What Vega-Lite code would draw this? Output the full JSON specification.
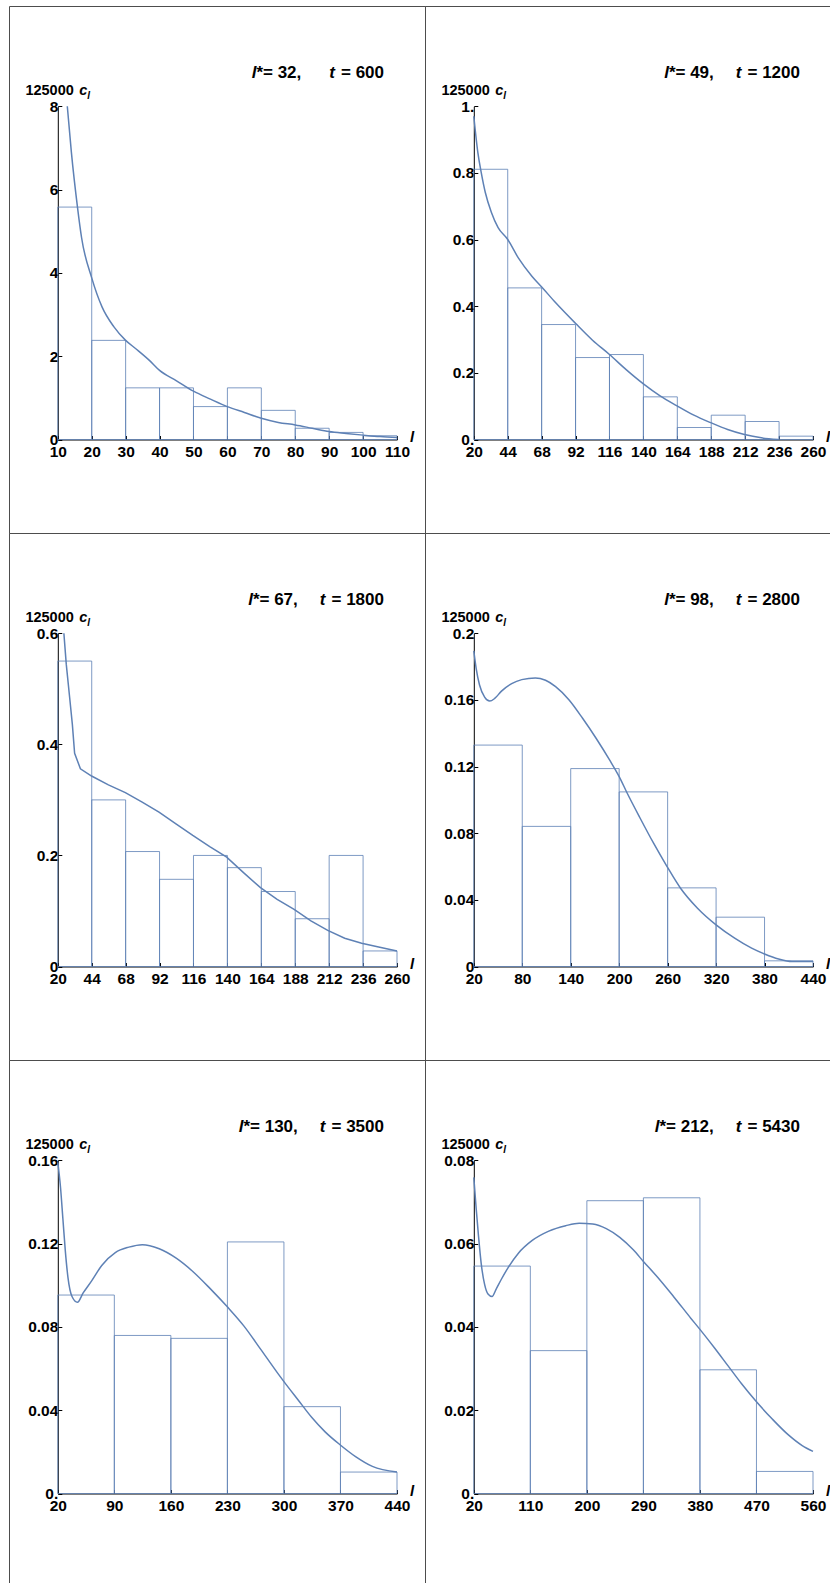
{
"$schema": "https://vega.github.io/schema/vega-lite/v6.json",
"padding": {"left": 8, "top": 5, "right": 0, "bottom": 0},
"background": "white",
"columns": 2,
"spacing": 0,
"bounds": "flush",
"config": {
  "view": {"stroke": "#4d4d4d", "strokeWidth": 1},
  "font": "Liberation Sans",
  "axis": {"domainColor": "#000", "tickColor": "#000", "labelColor": "#000", "labelFont": "Liberation Sans", "labelFontSize": 15.5, "labelFontWeight": "bold", "labelFlush": false, "labelOverlap": false, "labelBound": false, "grid": false, "tickSize": -4},
  "axisX": {"labelPadding": 9},
  "axisY": {"labelPadding": 4}
},
"datasets": {
  "bars1": [{"a":10,"b":20,"h":5.58},{"a":20,"b":30,"h":2.38},{"a":30,"b":40,"h":1.24},{"a":40,"b":50,"h":1.24},{"a":50,"b":60,"h":0.79},{"a":60,"b":70,"h":1.24},{"a":70,"b":80,"h":0.70},{"a":80,"b":90,"h":0.27},{"a":90,"b":100,"h":0.17},{"a":100,"b":110,"h":0.09}],
  "curve1": [{"l":12.8,"c":8.0},{"l":14,"c":6.9},{"l":15.8,"c":5.58},{"l":17,"c":4.85},{"l":20,"c":3.88},{"l":23,"c":3.19},{"l":26.5,"c":2.71},{"l":30,"c":2.38},{"l":33,"c":2.18},{"l":37,"c":1.9},{"l":40,"c":1.66},{"l":45,"c":1.41},{"l":50,"c":1.16},{"l":55,"c":0.97},{"l":60,"c":0.79},{"l":65,"c":0.65},{"l":70,"c":0.51},{"l":75,"c":0.41},{"l":80,"c":0.35},{"l":85,"c":0.27},{"l":90,"c":0.19},{"l":95,"c":0.145},{"l":100,"c":0.105},{"l":105,"c":0.07},{"l":110,"c":0.05}],
  "bars2": [{"a":20,"b":44,"h":0.811},{"a":44,"b":68,"h":0.455},{"a":68,"b":92,"h":0.345},{"a":92,"b":116,"h":0.246},{"a":116,"b":140,"h":0.255},{"a":140,"b":164,"h":0.128},{"a":164,"b":188,"h":0.036},{"a":188,"b":212,"h":0.073},{"a":212,"b":236,"h":0.054},{"a":236,"b":260,"h":0.010}],
  "curve2": [{"l":20,"c":0.97},{"l":22.9,"c":0.86},{"l":25.3,"c":0.80},{"l":28.1,"c":0.742},{"l":32.4,"c":0.682},{"l":37.2,"c":0.636},{"l":43.9,"c":0.601},{"l":51.5,"c":0.545},{"l":61.1,"c":0.49},{"l":68.2,"c":0.457},{"l":77.8,"c":0.411},{"l":92.1,"c":0.348},{"l":104,"c":0.298},{"l":116,"c":0.255},{"l":128,"c":0.209},{"l":140,"c":0.167},{"l":151.8,"c":0.131},{"l":163.8,"c":0.101},{"l":175.7,"c":0.073},{"l":187.6,"c":0.0505},{"l":199.6,"c":0.03},{"l":211.5,"c":0.015},{"l":223.5,"c":0.005},{"l":235.4,"c":0.0}],
  "bars3": [{"a":20,"b":44,"h":0.55},{"a":44,"b":68,"h":0.30},{"a":68,"b":92,"h":0.207},{"a":92,"b":116,"h":0.157},{"a":116,"b":140,"h":0.20},{"a":140,"b":164,"h":0.178},{"a":164,"b":188,"h":0.135},{"a":188,"b":212,"h":0.086},{"a":212,"b":236,"h":0.20},{"a":236,"b":260,"h":0.028}],
  "curve3": [{"l":24.3,"c":0.6},{"l":26,"c":0.544},{"l":28.4,"c":0.484},{"l":30.3,"c":0.436},{"l":31.9,"c":0.384},{"l":36,"c":0.356},{"l":43.9,"c":0.343},{"l":55.8,"c":0.327},{"l":67.8,"c":0.313},{"l":79.7,"c":0.296},{"l":91.6,"c":0.278},{"l":103.6,"c":0.257},{"l":115.5,"c":0.236},{"l":127.5,"c":0.216},{"l":139.5,"c":0.197},{"l":151.4,"c":0.169},{"l":163.4,"c":0.142},{"l":175.2,"c":0.121},{"l":187.2,"c":0.103},{"l":199.1,"c":0.082},{"l":211,"c":0.065},{"l":223,"c":0.051},{"l":235,"c":0.042},{"l":247,"c":0.035},{"l":260,"c":0.028}],
  "bars4": [{"a":20,"b":80,"h":0.1329},{"a":80,"b":140,"h":0.0841},{"a":140,"b":200,"h":0.1188},{"a":200,"b":260,"h":0.1048},{"a":260,"b":320,"h":0.0472},{"a":320,"b":380,"h":0.0296},{"a":380,"b":440,"h":0.0034}],
  "curve4": [{"l":20,"c":0.1895},{"l":22.9,"c":0.179},{"l":27.1,"c":0.169},{"l":33.4,"c":0.1617},{"l":39.7,"c":0.1593},{"l":45.9,"c":0.1609},{"l":54.3,"c":0.1653},{"l":66.9,"c":0.1698},{"l":79.4,"c":0.1722},{"l":96.2,"c":0.1732},{"l":108.8,"c":0.1718},{"l":121.3,"c":0.168},{"l":138,"c":0.16},{"l":154.7,"c":0.149},{"l":171.4,"c":0.137},{"l":188.1,"c":0.124},{"l":200,"c":0.114},{"l":210,"c":0.104},{"l":226,"c":0.089},{"l":242.6,"c":0.074},{"l":259.3,"c":0.06},{"l":276,"c":0.047},{"l":297,"c":0.035},{"l":320,"c":0.025},{"l":343,"c":0.017},{"l":364,"c":0.011},{"l":380,"c":0.0075},{"l":397.4,"c":0.0045},{"l":414,"c":0.003},{"l":440,"c":0.003}],
  "bars5": [{"a":20,"b":90,"h":0.0953},{"a":90,"b":160,"h":0.0759},{"a":160,"b":230,"h":0.0745},{"a":230,"b":300,"h":0.1208},{"a":300,"b":370,"h":0.0417},{"a":370,"b":440,"h":0.0103}],
  "curve5": [{"l":20,"c":0.159},{"l":23.4,"c":0.1468},{"l":26.3,"c":0.1319},{"l":29.2,"c":0.117},{"l":32.6,"c":0.1037},{"l":37.6,"c":0.0946},{"l":44.3,"c":0.0918},{"l":51.4,"c":0.0963},{"l":61.9,"c":0.1021},{"l":74.4,"c":0.1095},{"l":91.2,"c":0.1157},{"l":107.9,"c":0.1183},{"l":124.7,"c":0.1195},{"l":145.6,"c":0.1175},{"l":166.6,"c":0.113},{"l":187.5,"c":0.1065},{"l":208.4,"c":0.0985},{"l":230.2,"c":0.0895},{"l":250.3,"c":0.0805},{"l":271.3,"c":0.0692},{"l":292.2,"c":0.0578},{"l":300,"c":0.0537},{"l":317.6,"c":0.0449},{"l":334.3,"c":0.0366},{"l":351,"c":0.0296},{"l":369.8,"c":0.0233},{"l":388.7,"c":0.0177},{"l":409.5,"c":0.013},{"l":440,"c":0.0103}],
  "bars6": [{"a":20,"b":110,"h":0.0546},{"a":110,"b":200,"h":0.0343},{"a":200,"b":290,"h":0.0703},{"a":290,"b":380,"h":0.071},{"a":380,"b":470,"h":0.0297},{"a":470,"b":560,"h":0.0053}],
  "curve6": [{"l":20,"c":0.0759},{"l":23.8,"c":0.0684},{"l":27.5,"c":0.0618},{"l":31.8,"c":0.0552},{"l":37.2,"c":0.0502},{"l":42.6,"c":0.0479},{"l":49,"c":0.0473},{"l":56,"c":0.0492},{"l":64.1,"c":0.0515},{"l":74.9,"c":0.0543},{"l":91,"c":0.0577},{"l":112.5,"c":0.0607},{"l":139.4,"c":0.063},{"l":166.3,"c":0.0643},{"l":187.8,"c":0.0649},{"l":209.4,"c":0.0647},{"l":230.9,"c":0.0636},{"l":252.4,"c":0.0615},{"l":273.9,"c":0.0585},{"l":290,"c":0.0557},{"l":311.6,"c":0.0521},{"l":338.5,"c":0.0472},{"l":365.4,"c":0.0421},{"l":380,"c":0.0394},{"l":403,"c":0.035},{"l":424.5,"c":0.0307},{"l":446,"c":0.0264},{"l":469,"c":0.0222},{"l":494.4,"c":0.018},{"l":521.3,"c":0.014},{"l":542.8,"c":0.0115},{"l":560,"c":0.0101}]
},
"concat": [
{
 "width": 416, "height": 527,
 "layer": [
  {"data": {"name": "bars1"}, "mark": {"type": "rect", "fillOpacity": 0, "stroke": "#5E81B5", "strokeOpacity": 0.8, "strokeWidth": 1},
   "encoding": {"x": {"field": "a", "type": "quantitative", "scale": {"domain": [10,110], "range": [48.8,388], "nice": false, "zero": false}, "axis": {"title": null, "orient": "bottom", "offset": -93.5, "values": [10,20,30,40,50,60,70,80,90,100,110]}}, "x2": {"field": "b"},
    "y": {"field": "h", "type": "quantitative", "scale": {"domain": [0,8], "range": [433.5,100.3], "nice": false, "zero": false}, "axis": {"title": null, "orient": "left", "offset": -48.8, "values": [0,2,4,6,8], "format": "d"}}, "y2": {"datum": 0}}},
  {"data": {"name": "curve1"}, "mark": {"type": "line", "color": "#5E81B5", "strokeWidth": 1.5, "interpolate": "monotone"},
   "encoding": {"x": {"field": "l", "type": "quantitative", "scale": {"domain": [10,110], "range": [48.8,388], "nice": false, "zero": false}, "axis": {"title": null, "orient": "bottom", "offset": -93.5, "values": [10,20,30,40,50,60,70,80,90,100,110]}}, "y": {"field": "c", "type": "quantitative", "scale": {"domain": [0,8], "range": [433.5,100.3], "nice": false, "zero": false}, "axis": {"title": null, "orient": "left", "offset": -48.8, "values": [0,2,4,6,8], "format": "d"}}}},
  {"data": {"values": [{}]}, "mark": {"type": "text", "text": "l", "fontStyle": "italic", "fontWeight": "bold", "fontSize": 17, "align": "right", "baseline": "alphabetic", "dx": -140.6, "dy": -28, "color": "black"},
   "encoding": {"x": {"datum": 110, "type": "quantitative"}, "y": {"datum": 8, "type": "quantitative"}}},
  {"data": {"values": [{}]}, "mark": {"type": "text", "text": "*= 32,", "fontWeight": "bold", "fontSize": 17, "align": "right", "baseline": "alphabetic", "dx": -95.7, "dy": -28, "color": "black"},
   "encoding": {"x": {"datum": 110, "type": "quantitative"}, "y": {"datum": 8, "type": "quantitative"}}},
  {"data": {"values": [{}]}, "mark": {"type": "text", "text": "t", "fontStyle": "italic", "fontWeight": "bold", "fontSize": 17, "align": "right", "baseline": "alphabetic", "dx": -62, "dy": -28, "color": "black"},
   "encoding": {"x": {"datum": 110, "type": "quantitative"}, "y": {"datum": 8, "type": "quantitative"}}},
  {"data": {"values": [{}]}, "mark": {"type": "text", "text": "= 600", "fontWeight": "bold", "fontSize": 17, "align": "right", "baseline": "alphabetic", "dx": -13, "dy": -28, "color": "black"},
   "encoding": {"x": {"datum": 110, "type": "quantitative"}, "y": {"datum": 8, "type": "quantitative"}}},
  {"data": {"values": [{}]}, "mark": {"type": "text", "text": "125000", "fontWeight": "bold", "fontSize": 14.5, "align": "right", "baseline": "alphabetic", "dx": 16, "dy": -11, "color": "black"},
   "encoding": {"x": {"datum": 10, "type": "quantitative"}, "y": {"datum": 8, "type": "quantitative"}}},
  {"data": {"values": [{}]}, "mark": {"type": "text", "text": "c", "fontStyle": "italic", "fontWeight": "bold", "fontSize": 14.5, "align": "left", "baseline": "alphabetic", "dx": 21.5, "dy": -11, "color": "black"},
   "encoding": {"x": {"datum": 10, "type": "quantitative"}, "y": {"datum": 8, "type": "quantitative"}}},
  {"data": {"values": [{}]}, "mark": {"type": "text", "text": "l", "fontStyle": "italic", "fontWeight": "bold", "fontSize": 10, "align": "left", "baseline": "alphabetic", "dx": 29.5, "dy": -7.5, "color": "black"},
   "encoding": {"x": {"datum": 10, "type": "quantitative"}, "y": {"datum": 8, "type": "quantitative"}}},
  {"data": {"values": [{}]}, "mark": {"type": "text", "text": "l", "fontStyle": "italic", "fontWeight": "bold", "fontSize": 15, "align": "left", "baseline": "alphabetic", "dx": 13, "dy": 2, "color": "black"},
   "encoding": {"x": {"datum": 110, "type": "quantitative"}, "y": {"datum": 0, "type": "quantitative"}}}
 ]
},
{
 "width": 405, "height": 527,
 "layer": [
  {"data": {"name": "bars2"}, "mark": {"type": "rect", "fillOpacity": 0, "stroke": "#5E81B5", "strokeOpacity": 0.8, "strokeWidth": 1},
   "encoding": {"x": {"field": "a", "type": "quantitative", "scale": {"domain": [20,260], "range": [48.8,388], "nice": false, "zero": false}, "axis": {"title": null, "orient": "bottom", "offset": -93.5, "values": [20,44,68,92,116,140,164,188,212,236,260]}}, "x2": {"field": "b"},
    "y": {"field": "h", "type": "quantitative", "scale": {"domain": [0,1], "range": [433.5,100.3], "nice": false, "zero": false}, "axis": {"title": null, "orient": "left", "offset": -48.8, "values": [0,0.2,0.4,0.6,0.8,1], "labelExpr": "datum.value == 0 ? '0.' : datum.value == 1 ? '1.' : format(datum.value, '.1f')"}}, "y2": {"datum": 0}}},
  {"data": {"name": "curve2"}, "mark": {"type": "line", "color": "#5E81B5", "strokeWidth": 1.5, "interpolate": "monotone"},
   "encoding": {"x": {"field": "l", "type": "quantitative", "scale": {"domain": [20,260], "range": [48.8,388], "nice": false, "zero": false}, "axis": {"title": null, "orient": "bottom", "offset": -93.5, "values": [20,44,68,92,116,140,164,188,212,236,260]}}, "y": {"field": "c", "type": "quantitative", "scale": {"domain": [0,1], "range": [433.5,100.3], "nice": false, "zero": false}, "axis": {"title": null, "orient": "left", "offset": -48.8, "values": [0,0.2,0.4,0.6,0.8,1], "labelExpr": "datum.value == 0 ? '0.' : datum.value == 1 ? '1.' : format(datum.value, '.1f')"}}}},
  {"data": {"values": [{}]}, "mark": {"type": "text", "text": "l", "fontStyle": "italic", "fontWeight": "bold", "fontSize": 17, "align": "right", "baseline": "alphabetic", "dx": -144.1, "dy": -28, "color": "black"},
   "encoding": {"x": {"datum": 260, "type": "quantitative"}, "y": {"datum": 1, "type": "quantitative"}}},
  {"data": {"values": [{}]}, "mark": {"type": "text", "text": "*= 49,", "fontWeight": "bold", "fontSize": 17, "align": "right", "baseline": "alphabetic", "dx": -99.2, "dy": -28, "color": "black"},
   "encoding": {"x": {"datum": 260, "type": "quantitative"}, "y": {"datum": 1, "type": "quantitative"}}},
  {"data": {"values": [{}]}, "mark": {"type": "text", "text": "t", "fontStyle": "italic", "fontWeight": "bold", "fontSize": 17, "align": "right", "baseline": "alphabetic", "dx": -71.5, "dy": -28, "color": "black"},
   "encoding": {"x": {"datum": 260, "type": "quantitative"}, "y": {"datum": 1, "type": "quantitative"}}},
  {"data": {"values": [{}]}, "mark": {"type": "text", "text": "= 1200", "fontWeight": "bold", "fontSize": 17, "align": "right", "baseline": "alphabetic", "dx": -13, "dy": -28, "color": "black"},
   "encoding": {"x": {"datum": 260, "type": "quantitative"}, "y": {"datum": 1, "type": "quantitative"}}},
  {"data": {"values": [{}]}, "mark": {"type": "text", "text": "125000", "fontWeight": "bold", "fontSize": 14.5, "align": "right", "baseline": "alphabetic", "dx": 16, "dy": -11, "color": "black"},
   "encoding": {"x": {"datum": 20, "type": "quantitative"}, "y": {"datum": 1, "type": "quantitative"}}},
  {"data": {"values": [{}]}, "mark": {"type": "text", "text": "c", "fontStyle": "italic", "fontWeight": "bold", "fontSize": 14.5, "align": "left", "baseline": "alphabetic", "dx": 21.5, "dy": -11, "color": "black"},
   "encoding": {"x": {"datum": 20, "type": "quantitative"}, "y": {"datum": 1, "type": "quantitative"}}},
  {"data": {"values": [{}]}, "mark": {"type": "text", "text": "l", "fontStyle": "italic", "fontWeight": "bold", "fontSize": 10, "align": "left", "baseline": "alphabetic", "dx": 29.5, "dy": -7.5, "color": "black"},
   "encoding": {"x": {"datum": 20, "type": "quantitative"}, "y": {"datum": 1, "type": "quantitative"}}},
  {"data": {"values": [{}]}, "mark": {"type": "text", "text": "l", "fontStyle": "italic", "fontWeight": "bold", "fontSize": 15, "align": "left", "baseline": "alphabetic", "dx": 13, "dy": 2, "color": "black"},
   "encoding": {"x": {"datum": 260, "type": "quantitative"}, "y": {"datum": 0, "type": "quantitative"}}}
 ]
},
{
 "width": 416, "height": 527,
 "layer": [
  {"data": {"name": "bars3"}, "mark": {"type": "rect", "fillOpacity": 0, "stroke": "#5E81B5", "strokeOpacity": 0.8, "strokeWidth": 1},
   "encoding": {"x": {"field": "a", "type": "quantitative", "scale": {"domain": [20,260], "range": [48.8,388], "nice": false, "zero": false}, "axis": {"title": null, "orient": "bottom", "offset": -93.5, "values": [20,44,68,92,116,140,164,188,212,236,260]}}, "x2": {"field": "b"},
    "y": {"field": "h", "type": "quantitative", "scale": {"domain": [0,0.6], "range": [433.5,100.3], "nice": false, "zero": false}, "axis": {"title": null, "orient": "left", "offset": -48.8, "values": [0,0.2,0.4,0.6], "labelExpr": "datum.value == 0 ? '0' : format(datum.value, '.1f')"}}, "y2": {"datum": 0}}},
  {"data": {"name": "curve3"}, "mark": {"type": "line", "color": "#5E81B5", "strokeWidth": 1.5, "interpolate": "linear"},
   "encoding": {"x": {"field": "l", "type": "quantitative", "scale": {"domain": [20,260], "range": [48.8,388], "nice": false, "zero": false}, "axis": {"title": null, "orient": "bottom", "offset": -93.5, "values": [20,44,68,92,116,140,164,188,212,236,260]}}, "y": {"field": "c", "type": "quantitative", "scale": {"domain": [0,0.6], "range": [433.5,100.3], "nice": false, "zero": false}, "axis": {"title": null, "orient": "left", "offset": -48.8, "values": [0,0.2,0.4,0.6], "labelExpr": "datum.value == 0 ? '0' : format(datum.value, '.1f')"}}}},
  {"data": {"values": [{}]}, "mark": {"type": "text", "text": "l", "fontStyle": "italic", "fontWeight": "bold", "fontSize": 17, "align": "right", "baseline": "alphabetic", "dx": -144.1, "dy": -28, "color": "black"},
   "encoding": {"x": {"datum": 260, "type": "quantitative"}, "y": {"datum": 0.6, "type": "quantitative"}}},
  {"data": {"values": [{}]}, "mark": {"type": "text", "text": "*= 67,", "fontWeight": "bold", "fontSize": 17, "align": "right", "baseline": "alphabetic", "dx": -99.2, "dy": -28, "color": "black"},
   "encoding": {"x": {"datum": 260, "type": "quantitative"}, "y": {"datum": 0.6, "type": "quantitative"}}},
  {"data": {"values": [{}]}, "mark": {"type": "text", "text": "t", "fontStyle": "italic", "fontWeight": "bold", "fontSize": 17, "align": "right", "baseline": "alphabetic", "dx": -71.5, "dy": -28, "color": "black"},
   "encoding": {"x": {"datum": 260, "type": "quantitative"}, "y": {"datum": 0.6, "type": "quantitative"}}},
  {"data": {"values": [{}]}, "mark": {"type": "text", "text": "= 1800", "fontWeight": "bold", "fontSize": 17, "align": "right", "baseline": "alphabetic", "dx": -13, "dy": -28, "color": "black"},
   "encoding": {"x": {"datum": 260, "type": "quantitative"}, "y": {"datum": 0.6, "type": "quantitative"}}},
  {"data": {"values": [{}]}, "mark": {"type": "text", "text": "125000", "fontWeight": "bold", "fontSize": 14.5, "align": "right", "baseline": "alphabetic", "dx": 16, "dy": -11, "color": "black"},
   "encoding": {"x": {"datum": 20, "type": "quantitative"}, "y": {"datum": 0.6, "type": "quantitative"}}},
  {"data": {"values": [{}]}, "mark": {"type": "text", "text": "c", "fontStyle": "italic", "fontWeight": "bold", "fontSize": 14.5, "align": "left", "baseline": "alphabetic", "dx": 21.5, "dy": -11, "color": "black"},
   "encoding": {"x": {"datum": 20, "type": "quantitative"}, "y": {"datum": 0.6, "type": "quantitative"}}},
  {"data": {"values": [{}]}, "mark": {"type": "text", "text": "l", "fontStyle": "italic", "fontWeight": "bold", "fontSize": 10, "align": "left", "baseline": "alphabetic", "dx": 29.5, "dy": -7.5, "color": "black"},
   "encoding": {"x": {"datum": 20, "type": "quantitative"}, "y": {"datum": 0.6, "type": "quantitative"}}},
  {"data": {"values": [{}]}, "mark": {"type": "text", "text": "l", "fontStyle": "italic", "fontWeight": "bold", "fontSize": 15, "align": "left", "baseline": "alphabetic", "dx": 13, "dy": 2, "color": "black"},
   "encoding": {"x": {"datum": 260, "type": "quantitative"}, "y": {"datum": 0, "type": "quantitative"}}}
 ]
},
{
 "width": 405, "height": 527,
 "layer": [
  {"data": {"name": "bars4"}, "mark": {"type": "rect", "fillOpacity": 0, "stroke": "#5E81B5", "strokeOpacity": 0.8, "strokeWidth": 1},
   "encoding": {"x": {"field": "a", "type": "quantitative", "scale": {"domain": [20,440], "range": [48.8,388], "nice": false, "zero": false}, "axis": {"title": null, "orient": "bottom", "offset": -93.5, "values": [20,80,140,200,260,320,380,440]}}, "x2": {"field": "b"},
    "y": {"field": "h", "type": "quantitative", "scale": {"domain": [0,0.2], "range": [433.5,100.3], "nice": false, "zero": false}, "axis": {"title": null, "orient": "left", "offset": -48.8, "values": [0,0.04,0.08,0.12,0.16,0.2], "labelExpr": "datum.value == 0 ? '0' : format(datum.value, '~g')"}}, "y2": {"datum": 0}}},
  {"data": {"name": "curve4"}, "mark": {"type": "line", "color": "#5E81B5", "strokeWidth": 1.5, "interpolate": "monotone"},
   "encoding": {"x": {"field": "l", "type": "quantitative", "scale": {"domain": [20,440], "range": [48.8,388], "nice": false, "zero": false}, "axis": {"title": null, "orient": "bottom", "offset": -93.5, "values": [20,80,140,200,260,320,380,440]}}, "y": {"field": "c", "type": "quantitative", "scale": {"domain": [0,0.2], "range": [433.5,100.3], "nice": false, "zero": false}, "axis": {"title": null, "orient": "left", "offset": -48.8, "values": [0,0.04,0.08,0.12,0.16,0.2], "labelExpr": "datum.value == 0 ? '0' : format(datum.value, '~g')"}}}},
  {"data": {"values": [{}]}, "mark": {"type": "text", "text": "l", "fontStyle": "italic", "fontWeight": "bold", "fontSize": 17, "align": "right", "baseline": "alphabetic", "dx": -144.1, "dy": -28, "color": "black"},
   "encoding": {"x": {"datum": 440, "type": "quantitative"}, "y": {"datum": 0.2, "type": "quantitative"}}},
  {"data": {"values": [{}]}, "mark": {"type": "text", "text": "*= 98,", "fontWeight": "bold", "fontSize": 17, "align": "right", "baseline": "alphabetic", "dx": -99.2, "dy": -28, "color": "black"},
   "encoding": {"x": {"datum": 440, "type": "quantitative"}, "y": {"datum": 0.2, "type": "quantitative"}}},
  {"data": {"values": [{}]}, "mark": {"type": "text", "text": "t", "fontStyle": "italic", "fontWeight": "bold", "fontSize": 17, "align": "right", "baseline": "alphabetic", "dx": -71.5, "dy": -28, "color": "black"},
   "encoding": {"x": {"datum": 440, "type": "quantitative"}, "y": {"datum": 0.2, "type": "quantitative"}}},
  {"data": {"values": [{}]}, "mark": {"type": "text", "text": "= 2800", "fontWeight": "bold", "fontSize": 17, "align": "right", "baseline": "alphabetic", "dx": -13, "dy": -28, "color": "black"},
   "encoding": {"x": {"datum": 440, "type": "quantitative"}, "y": {"datum": 0.2, "type": "quantitative"}}},
  {"data": {"values": [{}]}, "mark": {"type": "text", "text": "125000", "fontWeight": "bold", "fontSize": 14.5, "align": "right", "baseline": "alphabetic", "dx": 16, "dy": -11, "color": "black"},
   "encoding": {"x": {"datum": 20, "type": "quantitative"}, "y": {"datum": 0.2, "type": "quantitative"}}},
  {"data": {"values": [{}]}, "mark": {"type": "text", "text": "c", "fontStyle": "italic", "fontWeight": "bold", "fontSize": 14.5, "align": "left", "baseline": "alphabetic", "dx": 21.5, "dy": -11, "color": "black"},
   "encoding": {"x": {"datum": 20, "type": "quantitative"}, "y": {"datum": 0.2, "type": "quantitative"}}},
  {"data": {"values": [{}]}, "mark": {"type": "text", "text": "l", "fontStyle": "italic", "fontWeight": "bold", "fontSize": 10, "align": "left", "baseline": "alphabetic", "dx": 29.5, "dy": -7.5, "color": "black"},
   "encoding": {"x": {"datum": 20, "type": "quantitative"}, "y": {"datum": 0.2, "type": "quantitative"}}},
  {"data": {"values": [{}]}, "mark": {"type": "text", "text": "l", "fontStyle": "italic", "fontWeight": "bold", "fontSize": 15, "align": "left", "baseline": "alphabetic", "dx": 13, "dy": 2, "color": "black"},
   "encoding": {"x": {"datum": 440, "type": "quantitative"}, "y": {"datum": 0, "type": "quantitative"}}}
 ]
},
{
 "width": 416, "height": 523,
 "layer": [
  {"data": {"name": "bars5"}, "mark": {"type": "rect", "fillOpacity": 0, "stroke": "#5E81B5", "strokeOpacity": 0.8, "strokeWidth": 1},
   "encoding": {"x": {"field": "a", "type": "quantitative", "scale": {"domain": [20,440], "range": [48.8,388], "nice": false, "zero": false}, "axis": {"title": null, "orient": "bottom", "offset": -89.5, "values": [20,90,160,230,300,370,440]}}, "x2": {"field": "b"},
    "y": {"field": "h", "type": "quantitative", "scale": {"domain": [0,0.16], "range": [433.5,100.3], "nice": false, "zero": false}, "axis": {"title": null, "orient": "left", "offset": -48.8, "values": [0,0.04,0.08,0.12,0.16], "labelExpr": "datum.value == 0 ? '0.' : format(datum.value, '~g')"}}, "y2": {"datum": 0}}},
  {"data": {"name": "curve5"}, "mark": {"type": "line", "color": "#5E81B5", "strokeWidth": 1.5, "interpolate": "monotone"},
   "encoding": {"x": {"field": "l", "type": "quantitative", "scale": {"domain": [20,440], "range": [48.8,388], "nice": false, "zero": false}, "axis": {"title": null, "orient": "bottom", "offset": -89.5, "values": [20,90,160,230,300,370,440]}}, "y": {"field": "c", "type": "quantitative", "scale": {"domain": [0,0.16], "range": [433.5,100.3], "nice": false, "zero": false}, "axis": {"title": null, "orient": "left", "offset": -48.8, "values": [0,0.04,0.08,0.12,0.16], "labelExpr": "datum.value == 0 ? '0.' : format(datum.value, '~g')"}}}},
  {"data": {"values": [{}]}, "mark": {"type": "text", "text": "l", "fontStyle": "italic", "fontWeight": "bold", "fontSize": 17, "align": "right", "baseline": "alphabetic", "dx": -153.5, "dy": -28, "color": "black"},
   "encoding": {"x": {"datum": 440, "type": "quantitative"}, "y": {"datum": 0.16, "type": "quantitative"}}},
  {"data": {"values": [{}]}, "mark": {"type": "text", "text": "*= 130,", "fontWeight": "bold", "fontSize": 17, "align": "right", "baseline": "alphabetic", "dx": -99.2, "dy": -28, "color": "black"},
   "encoding": {"x": {"datum": 440, "type": "quantitative"}, "y": {"datum": 0.16, "type": "quantitative"}}},
  {"data": {"values": [{}]}, "mark": {"type": "text", "text": "t", "fontStyle": "italic", "fontWeight": "bold", "fontSize": 17, "align": "right", "baseline": "alphabetic", "dx": -71.5, "dy": -28, "color": "black"},
   "encoding": {"x": {"datum": 440, "type": "quantitative"}, "y": {"datum": 0.16, "type": "quantitative"}}},
  {"data": {"values": [{}]}, "mark": {"type": "text", "text": "= 3500", "fontWeight": "bold", "fontSize": 17, "align": "right", "baseline": "alphabetic", "dx": -13, "dy": -28, "color": "black"},
   "encoding": {"x": {"datum": 440, "type": "quantitative"}, "y": {"datum": 0.16, "type": "quantitative"}}},
  {"data": {"values": [{}]}, "mark": {"type": "text", "text": "125000", "fontWeight": "bold", "fontSize": 14.5, "align": "right", "baseline": "alphabetic", "dx": 16, "dy": -11, "color": "black"},
   "encoding": {"x": {"datum": 20, "type": "quantitative"}, "y": {"datum": 0.16, "type": "quantitative"}}},
  {"data": {"values": [{}]}, "mark": {"type": "text", "text": "c", "fontStyle": "italic", "fontWeight": "bold", "fontSize": 14.5, "align": "left", "baseline": "alphabetic", "dx": 21.5, "dy": -11, "color": "black"},
   "encoding": {"x": {"datum": 20, "type": "quantitative"}, "y": {"datum": 0.16, "type": "quantitative"}}},
  {"data": {"values": [{}]}, "mark": {"type": "text", "text": "l", "fontStyle": "italic", "fontWeight": "bold", "fontSize": 10, "align": "left", "baseline": "alphabetic", "dx": 29.5, "dy": -7.5, "color": "black"},
   "encoding": {"x": {"datum": 20, "type": "quantitative"}, "y": {"datum": 0.16, "type": "quantitative"}}},
  {"data": {"values": [{}]}, "mark": {"type": "text", "text": "l", "fontStyle": "italic", "fontWeight": "bold", "fontSize": 15, "align": "left", "baseline": "alphabetic", "dx": 13, "dy": 2, "color": "black"},
   "encoding": {"x": {"datum": 440, "type": "quantitative"}, "y": {"datum": 0, "type": "quantitative"}}}
 ]
},
{
 "width": 405, "height": 523,
 "layer": [
  {"data": {"name": "bars6"}, "mark": {"type": "rect", "fillOpacity": 0, "stroke": "#5E81B5", "strokeOpacity": 0.8, "strokeWidth": 1},
   "encoding": {"x": {"field": "a", "type": "quantitative", "scale": {"domain": [20,560], "range": [48.8,388], "nice": false, "zero": false}, "axis": {"title": null, "orient": "bottom", "offset": -89.5, "values": [20,110,200,290,380,470,560]}}, "x2": {"field": "b"},
    "y": {"field": "h", "type": "quantitative", "scale": {"domain": [0,0.08], "range": [433.5,100.3], "nice": false, "zero": false}, "axis": {"title": null, "orient": "left", "offset": -48.8, "values": [0,0.02,0.04,0.06,0.08], "labelExpr": "datum.value == 0 ? '0.' : format(datum.value, '~g')"}}, "y2": {"datum": 0}}},
  {"data": {"name": "curve6"}, "mark": {"type": "line", "color": "#5E81B5", "strokeWidth": 1.5, "interpolate": "monotone"},
   "encoding": {"x": {"field": "l", "type": "quantitative", "scale": {"domain": [20,560], "range": [48.8,388], "nice": false, "zero": false}, "axis": {"title": null, "orient": "bottom", "offset": -89.5, "values": [20,110,200,290,380,470,560]}}, "y": {"field": "c", "type": "quantitative", "scale": {"domain": [0,0.08], "range": [433.5,100.3], "nice": false, "zero": false}, "axis": {"title": null, "orient": "left", "offset": -48.8, "values": [0,0.02,0.04,0.06,0.08], "labelExpr": "datum.value == 0 ? '0.' : format(datum.value, '~g')"}}}},
  {"data": {"values": [{}]}, "mark": {"type": "text", "text": "l", "fontStyle": "italic", "fontWeight": "bold", "fontSize": 17, "align": "right", "baseline": "alphabetic", "dx": -153.5, "dy": -28, "color": "black"},
   "encoding": {"x": {"datum": 560, "type": "quantitative"}, "y": {"datum": 0.08, "type": "quantitative"}}},
  {"data": {"values": [{}]}, "mark": {"type": "text", "text": "*= 212,", "fontWeight": "bold", "fontSize": 17, "align": "right", "baseline": "alphabetic", "dx": -99.2, "dy": -28, "color": "black"},
   "encoding": {"x": {"datum": 560, "type": "quantitative"}, "y": {"datum": 0.08, "type": "quantitative"}}},
  {"data": {"values": [{}]}, "mark": {"type": "text", "text": "t", "fontStyle": "italic", "fontWeight": "bold", "fontSize": 17, "align": "right", "baseline": "alphabetic", "dx": -71.5, "dy": -28, "color": "black"},
   "encoding": {"x": {"datum": 560, "type": "quantitative"}, "y": {"datum": 0.08, "type": "quantitative"}}},
  {"data": {"values": [{}]}, "mark": {"type": "text", "text": "= 5430", "fontWeight": "bold", "fontSize": 17, "align": "right", "baseline": "alphabetic", "dx": -13, "dy": -28, "color": "black"},
   "encoding": {"x": {"datum": 560, "type": "quantitative"}, "y": {"datum": 0.08, "type": "quantitative"}}},
  {"data": {"values": [{}]}, "mark": {"type": "text", "text": "125000", "fontWeight": "bold", "fontSize": 14.5, "align": "right", "baseline": "alphabetic", "dx": 16, "dy": -11, "color": "black"},
   "encoding": {"x": {"datum": 20, "type": "quantitative"}, "y": {"datum": 0.08, "type": "quantitative"}}},
  {"data": {"values": [{}]}, "mark": {"type": "text", "text": "c", "fontStyle": "italic", "fontWeight": "bold", "fontSize": 14.5, "align": "left", "baseline": "alphabetic", "dx": 21.5, "dy": -11, "color": "black"},
   "encoding": {"x": {"datum": 20, "type": "quantitative"}, "y": {"datum": 0.08, "type": "quantitative"}}},
  {"data": {"values": [{}]}, "mark": {"type": "text", "text": "l", "fontStyle": "italic", "fontWeight": "bold", "fontSize": 10, "align": "left", "baseline": "alphabetic", "dx": 29.5, "dy": -7.5, "color": "black"},
   "encoding": {"x": {"datum": 20, "type": "quantitative"}, "y": {"datum": 0.08, "type": "quantitative"}}},
  {"data": {"values": [{}]}, "mark": {"type": "text", "text": "l", "fontStyle": "italic", "fontWeight": "bold", "fontSize": 15, "align": "left", "baseline": "alphabetic", "dx": 13, "dy": 2, "color": "black"},
   "encoding": {"x": {"datum": 560, "type": "quantitative"}, "y": {"datum": 0, "type": "quantitative"}}}
 ]
}
]
}
